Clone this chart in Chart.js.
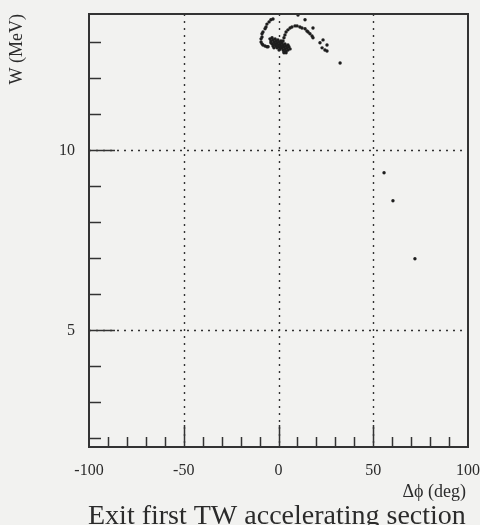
<!DOCTYPE html>
<html>
<head>
<meta charset="utf-8">
<script src="https://cdn.jsdelivr.net/npm/chart.js@4"></script>
<style>
  html, body { margin: 0; padding: 0; background: #f2f2f0; }
  #wrap { position: relative; width: 480px; height: 525px; }
</style>
</head>
<body>
<div id="wrap"><canvas id="c" width="480" height="525"></canvas></div>
<script>
// Phase offset (deg) and kinetic energy (MeV) of each tracked particle
const phaseDeg = [
  -2.9, -4.0, -5.0, -6.1, -6.6, -7.1, -8.2, -8.7, -8.7, -9.2, -9.2, -8.7, -8.2, -7.1, -6.1, -5.5,
  -4.5, -4.0, -3.4, -3.4, -2.9, -2.9, -2.4, -2.4, -1.8, -1.8, -1.3, -1.3, -0.8, -0.8, -0.3, -0.3,
  0.3, 0.3, 0.8, 0.8, 1.3, 1.3, 1.8, 1.8, 2.4, 2.4, 2.9, 2.9, 3.4, 3.4, 4.0, 4.0, 4.5, 5.0, 5.0,
  5.5, 6.1, 2.9, 4.0, -4.0, -2.4, -0.8, 0.8, 1.8, 0.3,
  2.4, 2.9, 3.4, 4.0, 5.0, 6.1, 7.1, 8.7, 9.8, 11.3, 12.4, 14.0, 15.0, 15.6, 16.6, 17.7, 18.2,
  10.3, 14.0, 18.2, 21.9, 23.5, 23.0, 24.5, 25.6, 25.6, 32.5,
  55.7, 60.4, 72.0
];
const energyMeV = [
  13.65, 13.63, 13.57, 13.51, 13.43, 13.38, 13.29, 13.24, 13.15, 13.10, 13.01, 12.96, 12.93, 12.90, 12.88, 12.88,
  13.10, 13.04, 13.13, 12.96, 13.07, 12.90, 13.01, 12.85, 13.10, 12.96, 13.04, 12.90, 12.99, 12.85, 13.07, 12.93,
  13.01, 12.88, 12.96, 12.82, 13.04, 12.90, 12.99, 12.85, 12.93, 12.79, 12.88, 12.74, 12.96, 12.82, 12.90, 12.76, 12.85, 12.93, 12.79,
  12.88, 12.82, 12.71, 12.71, 12.99, 12.93, 12.93, 12.90, 12.90, 12.79,
  13.04, 13.13, 13.21, 13.29, 13.35, 13.40, 13.43, 13.46, 13.46, 13.43, 13.40, 13.38, 13.32, 13.29, 13.24, 13.18, 13.13,
  13.76, 13.63, 13.40, 12.99, 13.07, 12.85, 12.79, 12.93, 12.76, 12.43,
  9.38, 8.60, 6.99
];

// Axis ticks: small marks every step, numbers and dotted grid on the major ones
const xTickValues = [-90, -80, -70, -60, -50, -40, -30, -20, -10, 0, 10, 20, 30, 40, 50, 60, 70, 80, 90];
const xLabelValues = [-100, -50, 0, 50, 100];
const xGridValues = [-50, 0, 50];
const yTickValues = [2, 3, 4, 5, 6, 7, 8, 9, 10, 11, 12, 13];
const yLabelValues = [5, 10];
const yGridValues = [5, 10];

const xRange = [-100, 100];
const yRange = [1.76, 13.79];

const yTitle = 'W (MeV)';
const xTitle = 'Δϕ (deg)';
const caption = 'Exit first TW accelerating section';

const SERIF = '"Liberation Serif", "DejaVu Serif", serif';
const INK = '#2b2b2b';

const points = phaseDeg.map((x, i) => ({ x, y: energyMeV[i] }));

// keep the plot box fixed: no extra room reserved for edge labels
function noEdgePadding(s) {
  s.paddingLeft = 0; s.paddingRight = 0; s.paddingTop = 0; s.paddingBottom = 0;
}

const framePlugin = {
  id: 'frame',
  beforeDatasetsDraw(chart) {
    const { ctx, chartArea: a, scales: { x, y } } = chart;
    ctx.save();
    ctx.strokeStyle = '#333';
    ctx.lineWidth = 1.4;
    ctx.setLineDash([2, 5]);
    xGridValues.forEach(v => {
      const px = Math.round(x.getPixelForValue(v)) + 0.5;
      ctx.beginPath(); ctx.moveTo(px, a.top); ctx.lineTo(px, a.bottom); ctx.stroke();
    });
    yGridValues.forEach(v => {
      const py = Math.round(y.getPixelForValue(v)) + 0.5;
      ctx.beginPath(); ctx.moveTo(a.left, py); ctx.lineTo(a.right, py); ctx.stroke();
    });
    ctx.restore();
  },
  afterDatasetsDraw(chart) {
    const { ctx, chartArea: a, scales: { x, y } } = chart;
    ctx.save();
    ctx.strokeStyle = '#333';
    ctx.lineWidth = 1.5;
    ctx.setLineDash([]);
    xTickValues.forEach(v => {
      const px = Math.round(x.getPixelForValue(v)) + 0.5;
      const len = xGridValues.includes(v) ? 22 : 10;
      ctx.beginPath(); ctx.moveTo(px, a.bottom); ctx.lineTo(px, a.bottom - len); ctx.stroke();
    });
    yTickValues.forEach(v => {
      const py = Math.round(y.getPixelForValue(v)) + 0.5;
      const len = yGridValues.includes(v) ? 26 : 12;
      ctx.beginPath(); ctx.moveTo(a.left, py); ctx.lineTo(a.left + len, py); ctx.stroke();
    });
    ctx.lineWidth = 2;
    ctx.strokeRect(a.left, a.top, a.right - a.left, a.bottom - a.top);
    ctx.restore();
  },
  afterDraw(chart) {
    const { ctx, chartArea: a } = chart;
    ctx.save();
    ctx.fillStyle = INK;
    // vertical axis title, reading upward from the top corner
    ctx.font = '18px ' + SERIF;
    ctx.translate(22, a.top);
    ctx.rotate(-Math.PI / 2);
    ctx.textAlign = 'right';
    ctx.textBaseline = 'alphabetic';
    ctx.fillText(yTitle, 0, 0);
    ctx.restore();

    ctx.save();
    ctx.fillStyle = INK;
    ctx.font = '18px ' + SERIF;
    ctx.textAlign = 'right';
    ctx.textBaseline = 'alphabetic';
    ctx.fillText(xTitle, a.right - 2, 497);
    ctx.font = '28px ' + SERIF;
    ctx.textAlign = 'left';
    ctx.fillText(caption, 88, 524);
    ctx.restore();
  }
};

new Chart(document.getElementById('c'), {
  type: 'scatter',
  data: {
    datasets: [{
      data: points,
      pointRadius: 1.7,
      pointHoverRadius: 1.7,
      pointBackgroundColor: '#1e1e1e',
      pointBorderWidth: 0
    }]
  },
  options: {
    responsive: false,
    animation: false,
    devicePixelRatio: 1,
    layout: { padding: { top: 14, right: 12, left: 0, bottom: 0 } },
    plugins: { legend: { display: false }, tooltip: { enabled: false } },
    scales: {
      x: {
        type: 'linear',
        position: 'bottom',
        min: xRange[0],
        max: xRange[1],
        afterBuildTicks: s => { s.ticks = xLabelValues.map(v => ({ value: v })); },
        afterFit: s => { s.height = 78; noEdgePadding(s); },
        grid: { display: false, drawTicks: false },
        border: { display: false },
        ticks: {
          autoSkip: false,
          maxRotation: 0,
          padding: 14,
          color: INK,
          font: { family: SERIF, size: 16 }
        }
      },
      y: {
        type: 'linear',
        min: yRange[0],
        max: yRange[1],
        afterBuildTicks: s => { s.ticks = yLabelValues.map(v => ({ value: v })); },
        afterFit: s => { s.width = 89; noEdgePadding(s); },
        grid: { display: false, drawTicks: false },
        border: { display: false },
        ticks: {
          padding: 14,
          color: INK,
          font: { family: SERIF, size: 16 }
        }
      }
    }
  },
  plugins: [framePlugin]
});
</script>
</body>
</html>
